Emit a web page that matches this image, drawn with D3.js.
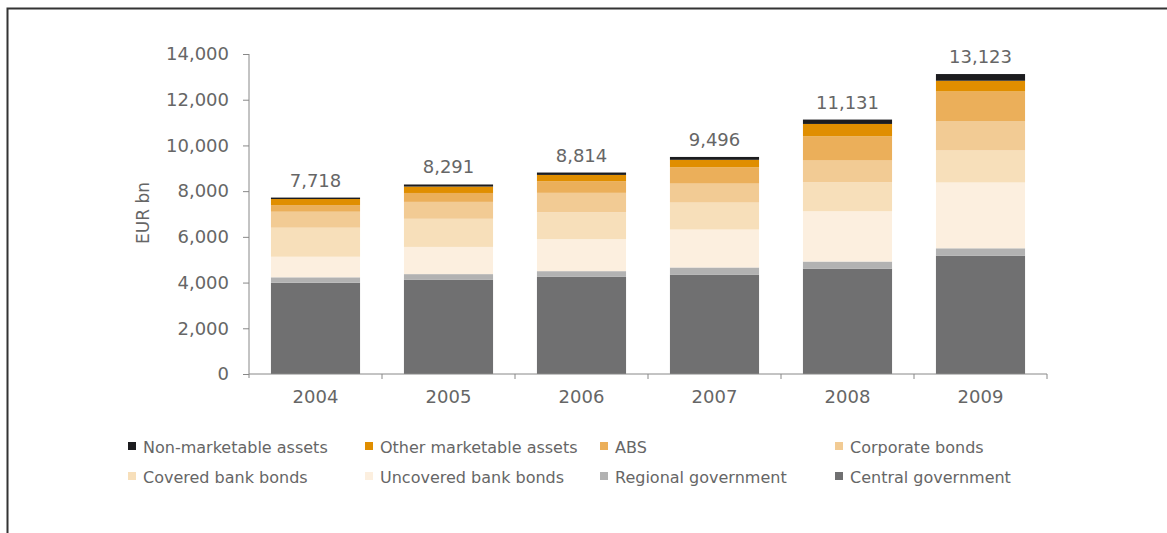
<!DOCTYPE html>
<html><head><meta charset="utf-8">
<script src="https://cdn.jsdelivr.net/npm/d3@7/dist/d3.min.js"></script>
<style>body{margin:0;background:#fff;} svg{display:block;} text{font-family:"DejaVu Sans",Verdana,sans-serif;fill:#666;}</style>
</head><body><svg id="c" width="1167" height="533"></svg>
<script>
const years = ["2004","2005","2006","2007","2008","2009"];
const totals = [7718, 8291, 8814, 9496, 11131, 13123];
const seriesNames = ["Central government","Regional government","Uncovered bank bonds","Covered bank bonds","Corporate bonds","ABS","Other marketable assets","Non-marketable assets"];
const central     = [3990, 4130, 4250, 4350, 4610, 5180];
const regional    = [240, 240, 250, 310, 310, 320];
const uncovered   = [900, 1190, 1400, 1660, 2200, 2880];
const covered     = [1270, 1230, 1180, 1180, 1270, 1400];
const corporate   = [700, 740, 845, 830, 950, 1270];
const abs         = [290, 390, 510, 715, 1060, 1310];
const otherMkt    = [265, 280, 275, 325, 540, 470];
const nonMkt      = [63, 91, 104, 126, 191, 293];
const yTicks = [0, 2000, 4000, 6000, 8000, 10000, 12000, 14000];
const colors = ["#707071","#b2b2b2","#fcefdf","#f7dfba","#f2cb94","#ebaf5a","#e08e00","#1c1c1f"];
const legendOrder = ["Non-marketable assets","Other marketable assets","ABS","Corporate bonds","Covered bank bonds","Uncovered bank bonds","Regional government","Central government"];

const seriesData = [central, regional, uncovered, covered, corporate, abs, otherMkt, nonMkt];
const rows = years.map((y,i)=>{const o={year:y}; seriesNames.forEach((s,k)=>o[s]=seriesData[k][i]); return o;});
const stack = d3.stack().keys(seriesNames)(rows);

const svg = d3.select("#c");
svg.append("rect").attr("x",7.5).attr("y",8.5).attr("width",1200).attr("height",600)
  .attr("fill","none").attr("stroke","#333").attr("stroke-width",2);

const x = d3.scaleBand().domain(years).range([249,1047]).paddingInner(0.33).paddingOuter(0.165);
const y = d3.scaleLinear().domain([0,14000]).range([374,54]);
const color = d3.scaleOrdinal().domain(seriesNames).range(colors);

svg.append("g").selectAll("g").data(stack).join("g").attr("fill",d=>color(d.key))
  .selectAll("rect").data(d=>d).join("rect")
  .attr("x",d=>x(d.data.year)).attr("width",x.bandwidth())
  .attr("y",d=>y(d[1])).attr("height",d=>y(d[0])-y(d[1]));

const ya = svg.append("g").attr("transform","translate(249,0)")
  .call(d3.axisLeft(y).tickValues(yTicks).tickFormat(d3.format(",")).tickSize(6).tickPadding(14));
ya.select(".domain").attr("stroke","#888").attr("d","M0,54V378");
ya.selectAll(".tick line").attr("stroke","#888");
ya.selectAll(".tick text").attr("font-size",18).attr("fill","#666");

const step = x.step();
const xa = svg.append("g").attr("transform","translate(0,374)");
xa.append("line").attr("x1",249).attr("x2",1047).attr("stroke","#888");
const bounds = years.map(yr=>x(yr)+x.bandwidth()+ (step-x.bandwidth())/2);
xa.selectAll("line.t").data(bounds).join("line").attr("class","t")
  .attr("x1",d=>d).attr("x2",d=>d).attr("y1",0).attr("y2",5).attr("stroke","#888");
xa.selectAll("text").data(years).join("text")
  .attr("x",d=>x(d)+x.bandwidth()/2).attr("y",29).attr("text-anchor","middle")
  .attr("font-size",18).text(d=>d);

svg.append("g").selectAll("text").data(years).join("text")
  .attr("x",d=>x(d)+x.bandwidth()/2).attr("y",(d,i)=>y(totals[i])-11)
  .attr("text-anchor","middle").attr("font-size",18).attr("fill","#707070")
  .text((d,i)=>d3.format(",")(totals[i]));

svg.append("text").attr("transform","translate(149,213) rotate(-90)").attr("text-anchor","middle")
  .attr("font-size",17).text("EUR bn");

const colX = [128,365,600,835];
const rowY = [453,483];
const lg = svg.append("g").selectAll("g").data(legendOrder).join("g")
  .attr("transform",(d,i)=>`translate(${colX[i%4]},${rowY[Math.floor(i/4)]})`);
lg.append("rect").attr("x",0).attr("y",-11).attr("width",8).attr("height",8).attr("fill",d=>color(d));
lg.append("text").attr("x",15).attr("y",0).attr("font-size",16).text(d=>d);
</script></body></html>
